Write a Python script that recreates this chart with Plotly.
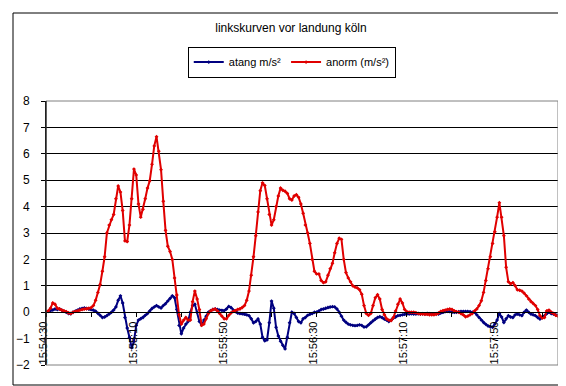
import pandas as pd
import plotly.graph_objects as go

title_text = "linkskurven vor landung köln"
series_names = ["atang m/s²", "anorm (m/s²)"]
start_time = "2000-01-01 15:54:30"

atang = [
    0.0, 0.03, 0.06, 0.08, 0.12, 0.1, 0.12, 0.08, 0.03, 0.0,
    -0.05, -0.06, 0.0, 0.04, 0.08, 0.12, 0.14, 0.16, 0.14, 0.12,
    0.1, 0.08, 0.04, -0.04, -0.12, -0.2, -0.18, -0.13, -0.07, 0.0,
    0.08, 0.2, 0.45, 0.62, 0.35, -0.2, -0.6, -0.95, -1.35, -1.1,
    -0.5, -0.3, -0.25, -0.2, -0.12, -0.05, 0.05, 0.14, 0.2, 0.25,
    0.2, 0.16, 0.25, 0.32, 0.42, 0.52, 0.62, 0.55, 0.1, -0.5,
    -0.82, -0.6, -0.45, -0.35, 0.0, 0.25, 0.3, 0.0, -0.35, -0.48,
    -0.3, -0.15, 0.0, 0.06, 0.1, 0.12, 0.1, 0.08, 0.07, 0.06,
    0.12, 0.22, 0.18, 0.08, 0.02, -0.03, -0.05, -0.06, -0.07, -0.1,
    -0.13, -0.25, -0.4, -0.35, -0.26, -0.45, -0.95, -1.08, -1.05, -0.4,
    0.42, 0.15, -0.57, -0.9, -1.1, -1.25, -1.39, -0.95, -0.4, 0.0,
    -0.05, -0.2, -0.35, -0.4, -0.25, -0.2, -0.12, -0.08, -0.05, 0.0,
    0.0, 0.05, 0.1, 0.12, 0.15, 0.18, 0.2, 0.21, 0.2, 0.12,
    0.0, -0.15, -0.3, -0.38, -0.45, -0.48, -0.5, -0.51, -0.5, -0.48,
    -0.5, -0.56, -0.55, -0.48, -0.4, -0.32, -0.26, -0.2, -0.17, -0.2,
    -0.26, -0.3, -0.35, -0.3, -0.22, -0.18, -0.13, -0.12, -0.1, -0.08,
    -0.07, -0.07, -0.06, -0.07, -0.07, -0.06, -0.07, -0.06, -0.07, -0.05,
    -0.06, -0.07, -0.07, -0.06, -0.07, -0.03, 0.0, 0.02, 0.03, 0.02,
    0.0, 0.0, 0.0, 0.02, 0.03, 0.03, 0.03, 0.03, 0.02, 0.0,
    0.0, -0.1, -0.2, -0.3, -0.39, -0.46, -0.52, -0.55, -0.57, -0.45,
    -0.3, -0.05, -0.18, -0.39, -0.25, -0.13, -0.18, -0.2, -0.1, -0.07,
    -0.1, -0.13, 0.0, 0.08, 0.0, -0.07, -0.1, -0.13, -0.2, -0.26,
    -0.2, -0.13, -0.05, 0.0, -0.05, -0.07, -0.1, -0.12,
]

anorm = [
    0.0, 0.05, 0.15, 0.35, 0.3, 0.15, 0.12, 0.08, 0.05, 0.02,
    -0.03, -0.05, 0.0, 0.03, 0.05, 0.08, 0.1, 0.12, 0.13, 0.15,
    0.17, 0.25, 0.45, 0.75, 1.05, 1.55, 2.1, 3.0, 3.3, 3.5,
    3.7, 4.3, 4.78, 4.55, 3.85, 2.7, 2.68, 3.3, 4.3, 5.42,
    5.2, 4.1, 3.6, 3.9, 4.3, 4.7, 4.98, 5.6, 6.3, 6.65,
    6.1, 5.4, 4.2, 3.1, 2.5, 2.3, 2.0, 1.3, 0.65, -0.1,
    -0.45, -0.3, -0.2, -0.3, -0.3, 0.4, 0.8, 0.5, 0.1, -0.5,
    -0.45, -0.25, -0.05, 0.05, 0.1, 0.12, 0.05, -0.05, -0.15, -0.25,
    -0.25, -0.12, -0.03, 0.03, 0.06, 0.1, 0.12, 0.18, 0.25, 0.45,
    0.8, 1.4, 2.1, 2.9, 3.8, 4.6, 4.9, 4.8, 4.3, 3.7,
    3.3, 3.5, 4.0, 4.4, 4.7, 4.62, 4.58, 4.5, 4.3, 4.25,
    4.4, 4.45, 4.35, 4.1, 3.75, 3.3, 3.0, 2.6, 2.0, 1.55,
    1.45, 1.45, 1.2, 1.12, 1.15, 1.4, 1.65, 1.85, 2.25, 2.6,
    2.8, 2.76, 2.0, 1.5, 1.3, 1.15, 1.0, 0.95, 0.92, 0.85,
    0.68, 0.25, -0.05, -0.12, -0.05, 0.25, 0.55, 0.66, 0.5, 0.1,
    -0.1, -0.25, -0.3, -0.32, -0.2, 0.05, 0.3, 0.5, 0.35, 0.1,
    0.02, 0.0, 0.0, 0.0, -0.02, -0.05, -0.07, -0.07, -0.08, -0.08,
    -0.1, -0.1, -0.1, -0.08, -0.03, 0.03, 0.06, 0.08, 0.1, 0.12,
    0.1, 0.05, 0.02, 0.0, -0.05, -0.1, -0.17, -0.15, -0.1, -0.05,
    0.05, 0.12, 0.25, 0.43, 0.75, 1.2, 1.65, 2.1, 2.6, 3.05,
    3.6, 4.15, 3.6, 2.9, 1.7, 1.15, 1.08, 1.12, 1.0, 0.85,
    0.83, 0.8, 0.72, 0.62, 0.5, 0.4, 0.33, 0.25, 0.1, -0.13,
    -0.22, -0.2, 0.05, 0.08, 0.0, -0.05, -0.12, -0.15,
]

tick_labels = ["15:54:30", "15:55:10", "15:55:50", "15:56:30", "15:57:10", "15:57:50"]
y_ticks = [-2, -1, 0, 1, 2, 3, 4, 5, 6, 7, 8]

times = pd.date_range(start_time, periods=len(anorm), freq="s")
tick_vals = [pd.Timestamp("2000-01-01 " + s) for s in tick_labels]

FONT = "Liberation Sans, Arial, sans-serif"

fig = go.Figure()
fig.add_trace(go.Scatter(
    x=times, y=atang, name=series_names[0], mode="lines+markers",
    line=dict(color="#000080", width=2),
    marker=dict(color="#000080", size=3, symbol="diamond"),
))
fig.add_trace(go.Scatter(
    x=times, y=anorm, name=series_names[1], mode="lines+markers",
    line=dict(color="#E00000", width=2),
    marker=dict(color="#E00000", size=3, symbol="diamond"),
))

fig.update_layout(
    width=566, height=386,
    margin=dict(l=38, r=16, t=93, b=29),
    paper_bgcolor="white", plot_bgcolor="white",
    font=dict(family=FONT, size=11, color="black"),
    title=dict(text=title_text, x=0.5, xref="container", xanchor="center",
               y=1 - 20 / 386, yref="container", yanchor="middle",
               font=dict(family=FONT, size=12, color="black")),
    showlegend=True,
    legend=dict(orientation="h", x=0.48, xanchor="center", y=1.206, yanchor="top",
                bordercolor="black", borderwidth=1, bgcolor="white",
                font=dict(family=FONT, size=11, color="black"),
                itemwidth=30, tracegroupgap=0),
    xaxis=dict(
        type="date", range=[times[0], times[-1]],
        anchor="free", position=0.2, automargin=False,
        tickvals=tick_vals, ticktext=tick_labels, tickangle=-90,
        ticklabelshift=-3,
        ticks="outside", ticklen=4, tickcolor="black", tickwidth=1,
        showline=True, linecolor="black", linewidth=1,
        showgrid=False, zeroline=False,
        minor=dict(dtick=20000, tick0=times[0], ticks="outside", ticklen=4,
                   tickcolor="black", showgrid=False),
        tickfont=dict(family=FONT, size=11, color="black"),
    ),
    yaxis=dict(
        range=[-2, 8], tickvals=y_ticks, automargin=False,
        ticks="outside", ticklen=4, tickcolor="black",
        ticklabelstandoff=9,
        showline=True, linecolor="black", linewidth=1,
        showgrid=True, gridcolor="black", gridwidth=1,
        zeroline=False,
        tickfont=dict(family=FONT, size=12, color="black"),
    ),
    shapes=[
        dict(type="rect", xref="paper", yref="paper", x0=0, x1=1, y0=0, y1=1,
             line=dict(color="#808080", width=1), layer="above"),
        dict(type="line", xref="paper", yref="paper", x0=0, x1=0, y0=0, y1=1,
             line=dict(color="black", width=1), layer="above"),
        dict(type="rect", xref="paper", yref="paper",
             x0=(5 - 38) / 512, x1=(557 - 38) / 512,
             y0=(357 - 377) / 264, y1=(357 - 5) / 264,
             line=dict(color="black", width=1), layer="below"),
    ],
)

fig.write_html("out.html")
